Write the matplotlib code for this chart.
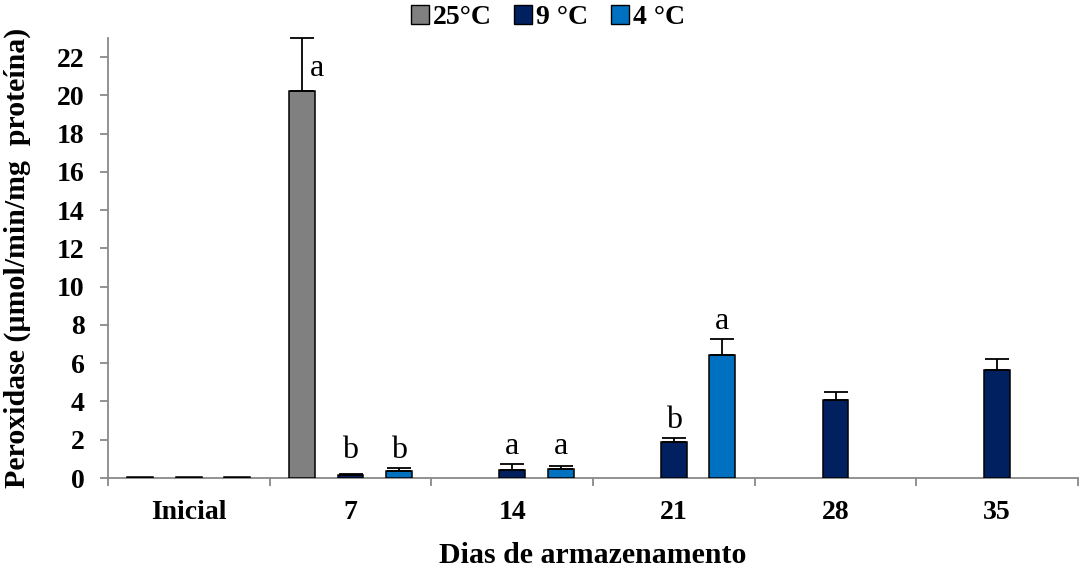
import matplotlib
matplotlib.use("Agg")
import matplotlib.pyplot as plt
from matplotlib.patches import Patch
import numpy as np

plt.rcParams['font.family'] = ['Liberation Serif', 'DejaVu Serif']

categories = ["Inicial", "7", "14", "21", "28", "35"]
series_names = ["25°C", "9 °C", "4 °C"]
colors = ["#808080", "#002060", "#0070C0"]

# values (NaN = no bar)
v25 = [0.05, 20.25, np.nan, np.nan, np.nan, np.nan]
v9 = [0.05, 0.14, 0.40, 1.88, 4.09, 5.63]
v4 = [0.05, 0.37, 0.49, 6.43, np.nan, np.nan]
e25 = [0.0, 2.75, 0.0, 0.0, 0.0, 0.0]
e9 = [0.0, 0.05, 0.33, 0.21, 0.38, 0.59]
e4 = [0.0, 0.17, 0.14, 0.84, 0.0, 0.0]
l25 = ["", "a", "", "", "", ""]
l9 = ["", "b", "a", "b", "", ""]
l4 = ["", "b", "a", "a", "", ""]

ytick_vals = list(range(0, 23, 2))

values = [v25, v9, v4]
errors = [e25, e9, e4]
letters = [l25, l9, l4]

fig = plt.figure(figsize=(10.8, 5.7), dpi=100)
ax = fig.add_axes([108/1080, 92/570, 970/1080, 440/570])

x = np.arange(len(categories))
offsets = [-0.30, 0.0, 0.30]
width = 0.16
axis_gray = "#898989"

for vals, errs, col, off in zip(values, errors, colors, offsets):
    vals = np.array(vals, dtype=float)
    errs = np.array(errs, dtype=float)
    mask = ~np.isnan(vals)
    ax.bar(x[mask] + off, vals[mask], width=width, color=col,
           edgecolor="black", linewidth=1.1, zorder=3)
    emask = mask & (errs > 0)
    ax.errorbar(x[emask] + off, vals[emask],
                yerr=[np.zeros(emask.sum()), errs[emask]],
                fmt="none", ecolor="black", elinewidth=1.3, capsize=8.5,
                capthick=1.3, zorder=4, clip_on=False)

# significance letters
for g in range(len(categories)):
    tops = {}
    for s in range(3):
        lab = letters[s][g]
        if lab:
            top = values[s][g] + errors[s][g]
            tops.setdefault(lab, []).append(top)
    for s in range(3):
        lab = letters[s][g]
        if not lab:
            continue
        v = values[s][g]
        e = errors[s][g]
        xs = x[g] + offsets[s]
        if e > 1.5:
            ax.text(xs + 0.095, v + 0.4, lab, ha="center", va="bottom",
                    fontsize=23, zorder=5)
        else:
            y = max(tops[lab]) + 0.15
            ax.text(xs, y, lab, ha="center", va="bottom", fontsize=23, zorder=5)

ax.set_xlim(-0.5, len(categories) - 0.5)
ax.set_ylim(0, 23)
ax.set_yticks(ytick_vals)
ax.set_yticklabels([str(t) for t in ytick_vals], fontsize=20, fontweight="bold")
ax.set_xticks(x)
ax.set_xticklabels(categories, fontsize=20, fontweight="bold")
ax.set_xticks(np.arange(-0.5, len(categories), 1.0), minor=True)
ax.tick_params(axis="x", which="major", length=0, pad=16)
ax.tick_params(axis="x", which="minor", length=6, width=1.3, color=axis_gray, direction="out")
ax.tick_params(axis="y", which="major", length=6, width=1.3, color=axis_gray, direction="out", pad=11)

for sp in ["top", "right"]:
    ax.spines[sp].set_visible(False)
for sp in ["left", "bottom"]:
    ax.spines[sp].set_color(axis_gray)
    ax.spines[sp].set_linewidth(1.3)
ax.spines["bottom"].set_zorder(2)

ax.set_ylabel("Peroxidase (µmol/min/mg  proteína)", fontsize=21.5, fontweight="bold")
ax.yaxis.set_label_coords(-0.079, 0.5)
ax.set_xlabel("Dias de armazenamento", fontsize=21.5, fontweight="bold")
ax.xaxis.set_label_coords(0.5, -0.145)
ax.xaxis.label.set_verticalalignment("top")

handles = [Patch(facecolor=c, edgecolor="black", linewidth=1.0) for c in colors]
fig.legend(handles, series_names, loc="upper center", bbox_to_anchor=(548/1080, 1.035),
           ncol=3, frameon=False, handlelength=0.65, handleheight=0.65,
           handletextpad=0.15, columnspacing=0.8,
           prop={"size": 20, "weight": "bold", "family": "Liberation Serif"})

fig.savefig("out.png", dpi=100)
